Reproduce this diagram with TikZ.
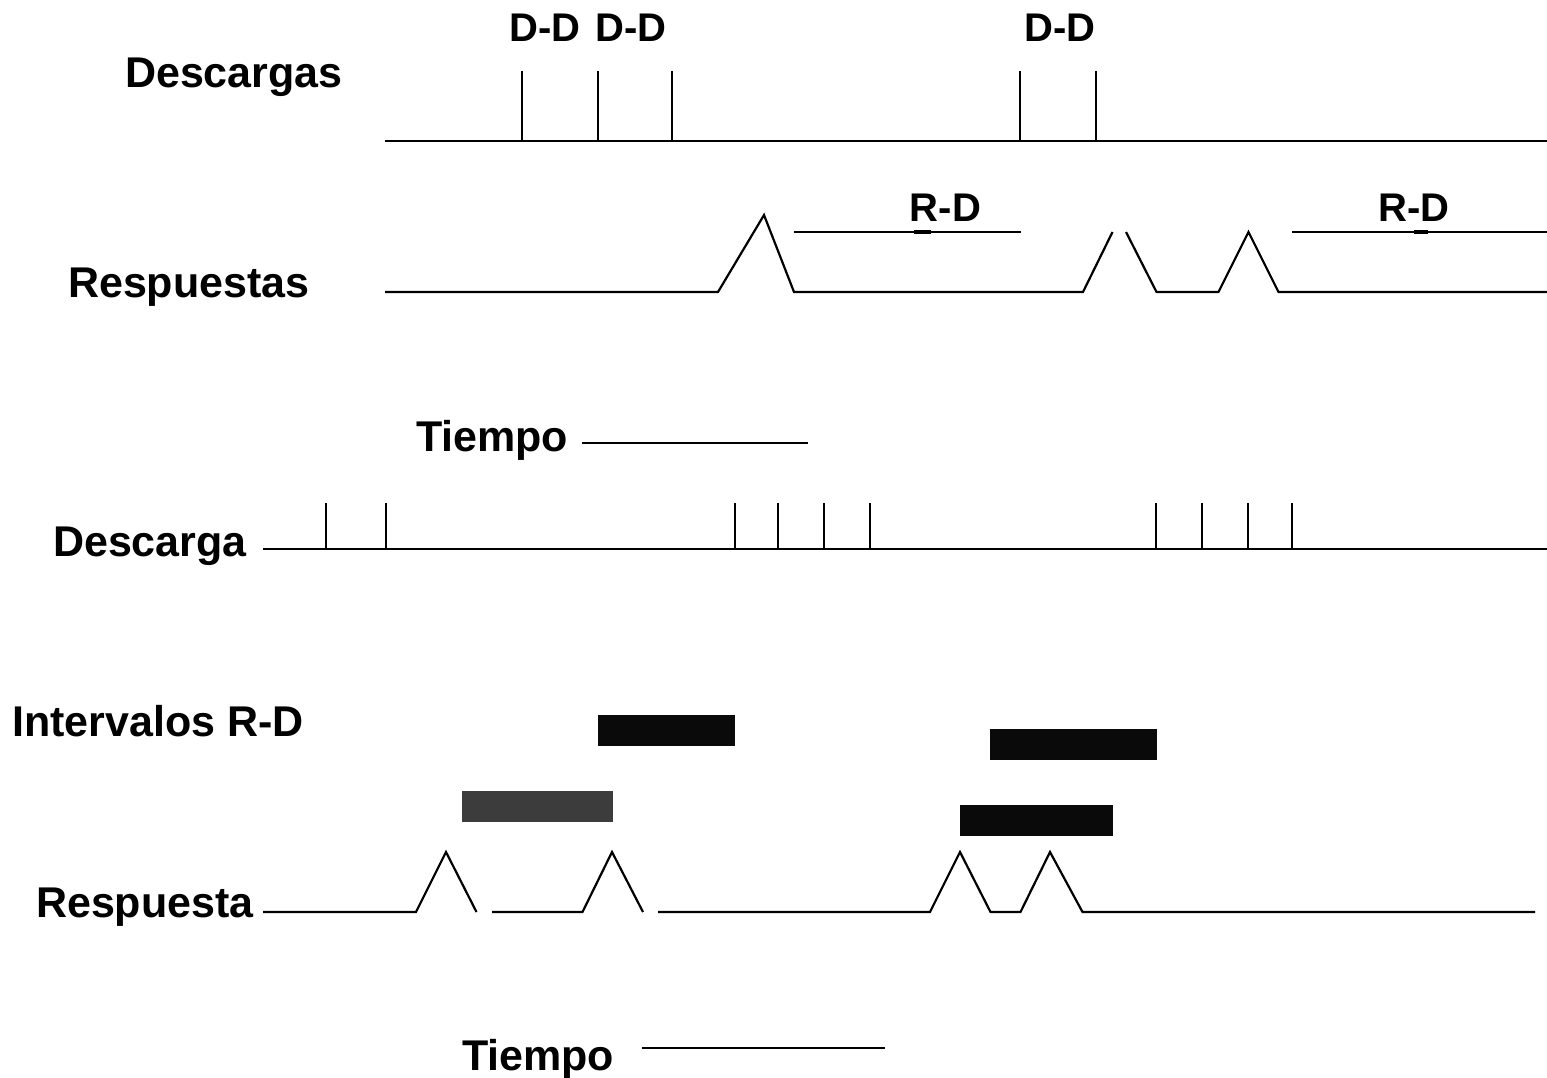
\documentclass[tikz,border=0pt]{standalone}
\usepackage{fontspec}
\setmainfont{Liberation Sans}
\definecolor{barblack}{HTML}{0A0A0A}
\definecolor{bargray}{HTML}{3C3C3C}

\begin{document}
\begin{tikzpicture}
	[x=1pt,y=-1pt,line width=2.2pt,
		lbl/.style={font=\fontsize{43}{48}\selectfont\bfseries,inner sep=0pt,anchor=base west},
		tag/.style={lbl,font=\fontsize{40}{46}\selectfont\bfseries,anchor=base},
		bar/.style={draw=none}]
	\useasboundingbox (0,0) rectangle (1547,1078);

	\node[lbl] (desc)    at (124,88)   {Descargas};
	\node[lbl] (resp)    at (67,297)   {Respuestas};
	\node[lbl] (tiempoA) at (415,451)  {Tiempo};
	\node[lbl] (descB)   at (52,556)   {Descarga};
	\node[lbl] (interv)  at (11,736)   {Intervalos R-D};
	\node[lbl] (respB)   at (35,917)   {Respuesta};
	\node[lbl] (tiempoB) at (461,1070) {Tiempo};

	\node[tag] (dd1) at (545,42)    {D-D};
	\node[tag] (dd2) at (631,42)    {D-D};
	\node[tag] (dd3) at (1060,42)   {D-D};
	\node[tag] (rd1) at (945.5,222) {R-D};
	\node[tag] (rd2) at (1414,222)  {R-D};

	\draw (385,141) -- (1547,141);
	\foreach \x in {522,598,672,1020,1096}
		\draw (\x,71) -- (\x,141);

	\draw (385,292) -- (718,292) -- (764,215) -- (794,292) -- (1083,292) -- (1112.5,232);
	\draw (1126,232) -- (1156.5,292) -- (1218.5,292) -- (1248.5,232) -- (1278.5,292) -- (1547,292);
	\draw (794,232) -- (1021,232);
	\draw (1292,232) -- (1547,232);
	\draw[line width=3.5pt] (914,232) -- (931,232);
	\draw[line width=3.5pt] (1414,232) -- (1428,232);

	\draw (581.5,443) -- (808,443);

	\draw (263,549) -- (1547,549);
	\foreach \x in {326,386,735,778,824,870,1156,1202,1248,1292}
		\draw (\x,503) -- (\x,549);

	\fill[bar,barblack] (598,715) rectangle (735,746);
	\fill[bar,bargray]  (462,791) rectangle (613,822);
	\fill[bar,barblack] (990,729) rectangle (1157,760);
	\fill[bar,barblack] (960,805) rectangle (1113,836);

	\draw (263,912) -- (416,912) -- (446,852) -- (476.5,912);
	\draw (492,912) -- (582.5,912) -- (612,852) -- (643,912);
	\draw (658,912) -- (930,912) -- (960,852) -- (990.5,912) -- (1020.5,912) -- (1050,852) -- (1082.5,912) -- (1535,912);

	\draw (642,1048) -- (885,1048);

\end{tikzpicture}
\end{document}
